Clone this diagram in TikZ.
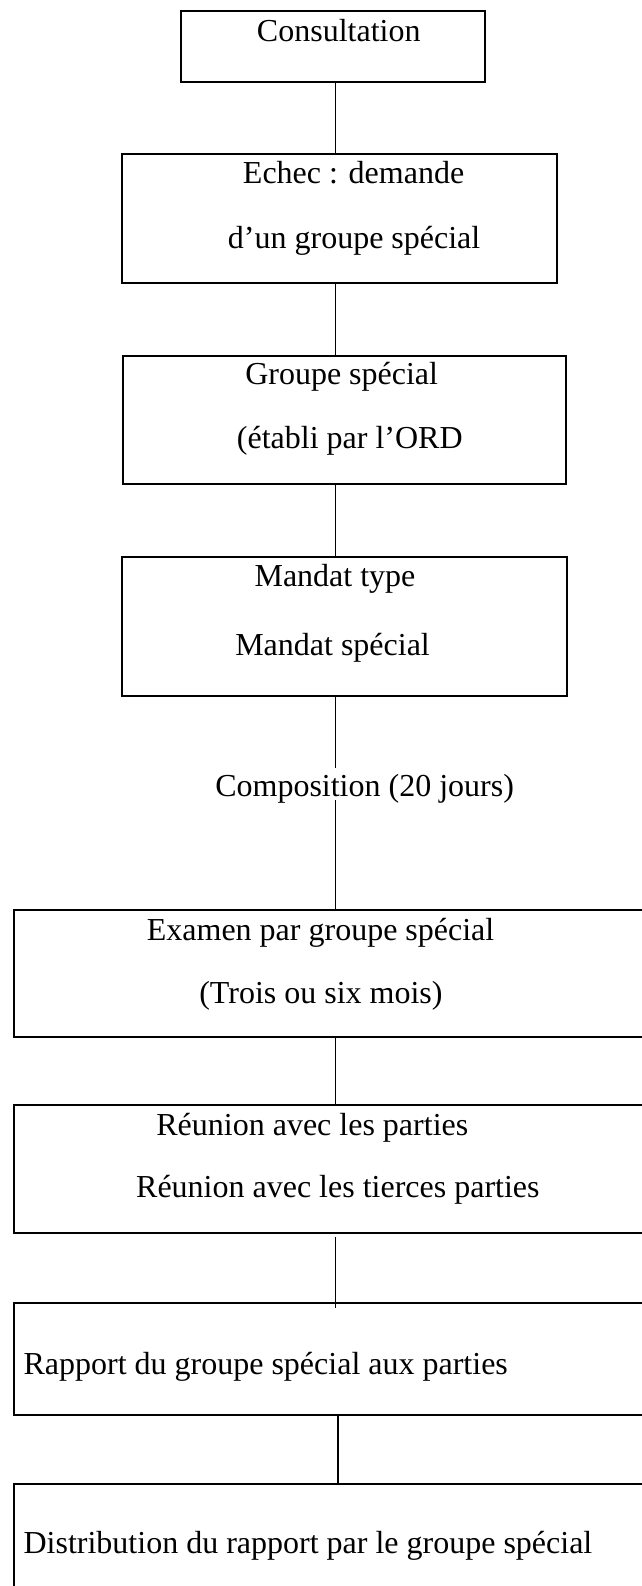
\documentclass[tikz,border=0pt]{standalone}
\usepackage{fontspec}
\setmainfont{Liberation Serif}
\usetikzlibrary{fit,calc}
\begin{document}
\begin{tikzpicture}[x=0.75pt,y=-0.75pt,
  box/.style={draw, line width=1.5pt, inner sep=0pt, rectangle},
  lbl/.style={anchor=base west, inner sep=0pt, font=\fontsize{24}{28}\selectfont},
  link/.style={line width=0.8pt}]
\useasboundingbox (0,0) rectangle (642,1586);
\clip (0,0) rectangle (642,1586);
% axes of the connectors
\coordinate (axis) at (335.6,0);
\coordinate (axisb) at (338,0);
% boxes
\node[box, fit={(180.7,10.7) (485,81.7)}] (b1) {};
\node[box, fit={(121.7,154) (556.7,283.3)}] (b2) {};
\node[box, fit={(122.7,356) (565.7,484)}] (b3) {};
\node[box, fit={(121.7,556.7) (566.7,695.7)}] (b4) {};
\node[box, fit={(13.5,910) (670,1037.3)}] (b5) {};
\node[box, fit={(13.5,1105) (670,1232.7)}] (b6) {};
\node[box, fit={(13.5,1302.7) (670,1415)}] (b7) {};
\node[box, fit={(14,1483.7) (670,1620)}] (b8) {};
% texts
\node[lbl] (t1) at (256.7,41.7) {Consultation};
\node[lbl] (t2a) at (242.7,183.3) {Echec : demande};
\node[lbl] (t2b) at (227.7,248.3) {d’un groupe spécial};
\node[lbl] (t3a) at (245,384.3) {Groupe spécial};
\node[lbl] (t3b) at (236.7,448.3) {(établi par l’ORD};
\node[lbl] (t4a) at (254.3,586.7) {Mandat type};
\node[lbl] (t4b) at (235,655) {Mandat spécial};
\node[lbl] (tc) at (215,796.7) {Composition (20 jours)};
\node[lbl] (t5a) at (146.6,940) {Examen par groupe spécial};
\node[lbl] (t5b) at (199,1003.3) {(Trois ou six mois)};
\node[lbl] (t6a) at (156.1,1135) {Réunion avec les parties};
\node[lbl] (t6b) at (135.9,1197.3) {Réunion avec les tierces parties};
\node[lbl] (t7) at (23.3,1374) {Rapport du groupe spécial aux parties};
\node[lbl] (t8) at (23.3,1553) {Distribution du rapport par le groupe spécial};
% connectors
\coordinate (ca) at (335.6,768);
\coordinate (cb) at (335.6,800);
\draw[link] (b1.south -| axis) -- (b2.north -| axis);
\draw[link] (b2.south -| axis) -- (b3.north -| axis);
\draw[link] (b3.south -| axis) -- (b4.north -| axis);
\draw[link] (b4.south -| axis) -- (ca);
\draw[link] (cb) -- (b5.north -| axis);
\draw[link] (b5.south -| axis) -- ($(b6.north -| axis)+(0,2)$);
\draw[link] ($(b6.south -| axis)+(0,3)$) -- ($(b7.north -| axis)+(0,6)$);
\draw[link] (b7.south -| axisb) -- (b8.north -| axisb);
\end{tikzpicture}
\end{document}
